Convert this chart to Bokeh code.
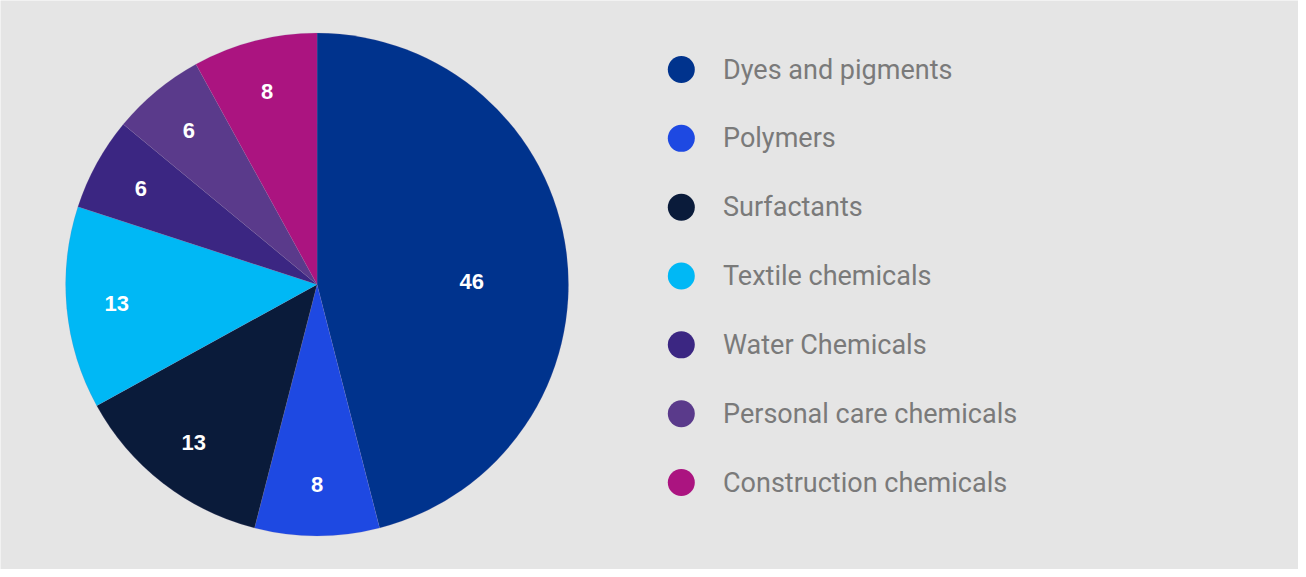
import math
from bokeh.plotting import figure
from bokeh.models import Range1d, ColumnDataSource
from bokeh.core.properties import value
from bokeh.embed import file_html
from bokeh.resources import INLINE

categories = ["Dyes and pigments", "Polymers", "Surfactants", "Textile chemicals",
              "Water Chemicals", "Personal care chemicals", "Construction chemicals"]
values = [46, 8, 13, 13, 6, 6, 8]
colors = ["#00338D", "#1E49E2", "#0A1B3A", "#00B8F5", "#3B2682", "#5A3A8B", "#AB1480"]

W, H = 1298, 569

p = figure(width=W, height=H, output_backend="svg", toolbar_location=None,
           x_range=Range1d(0, 1306), y_range=Range1d(-577, 0),
           x_axis_location=None, y_axis_location=None, min_border=0)
p.grid.visible = False
p.outline_line_color = None
p.background_fill_color = "#E5E5E5"
p.border_fill_color = "#E5E5E5"

cx, cy, r = 318.5, -288.0, 253.0
total = sum(values)
starts, ends, lx, ly, labels = [], [], [], [], []
cum = 0.0
for i, v in enumerate(values):
    a0 = math.pi / 2 - 2 * math.pi * cum / total
    a1 = math.pi / 2 - 2 * math.pi * (cum + v) / total
    starts.append(a0)
    ends.append(a1)
    mid = (a0 + a1) / 2
    fr = 0.8
    if v / total > 0.4:
        mid = math.radians(1)
        fr = 0.615
    lx.append(cx + fr * r * math.cos(mid))
    ly.append(cy + fr * r * math.sin(mid))
    labels.append(str(v))
    cum += v

src = ColumnDataSource(dict(start=starts, end=ends, color=colors))
p.wedge(x=cx, y=cy, radius=r, start_angle="start", end_angle="end", direction="clock",
        fill_color="color", line_color="#8a7aa8", line_width=0.3, line_alpha=0.5, source=src)

p.text(x=lx, y=ly, text=labels, text_color="white", text_font=value("Liberation Sans"),
       text_font_style="bold", text_font_size="22px", text_align="center",
       text_baseline="middle")

# legend
leg_y = [-(70 + 69.8 * i) for i in range(len(categories))]
p.scatter(x=[685] * len(categories), y=leg_y, size=27, fill_color=colors, line_color=None)
p.text(x=[727] * len(categories), y=leg_y, text=categories, text_color="#7A7A7A",
       text_font=value("Roboto"), text_font_size="27px",
       text_baseline="middle", text_align="left")

open("out.html", "w").write(file_html(p, INLINE))
